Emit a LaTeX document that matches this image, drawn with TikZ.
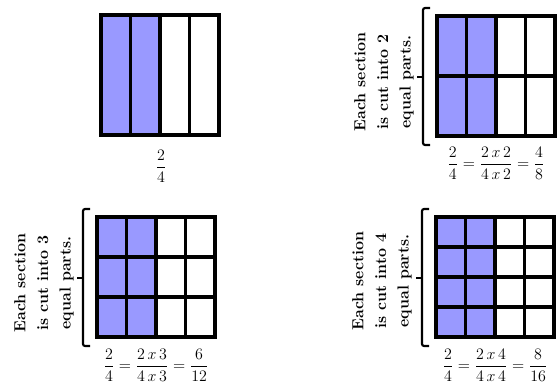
\documentclass[tikz,border=0pt]{standalone}
\usepackage{amsmath}
\usepackage{xcolor}
\usepackage{tikz}
\usetikzlibrary{positioning,calc}

\definecolor{partfill}{RGB}{153,153,255}
\tikzset{
	gridline/.style={line width=2.4pt},
	bracket/.style={line width=1.6pt, rounded corners=1.5pt},
	sidenote/.style={rotate=90, align=center, inner sep=0pt,
		font=\fontsize{12}{17}\selectfont\bfseries},
	eqlabel/.style={inner sep=0pt, font=\large},
}

\begin{document}
\begin{tikzpicture}[x=0.75pt,y=-0.75pt]
	\useasboundingbox (0,0) rectangle (559,386);
	
	% the four grids: left, top, rows
	\foreach \gx/\gy/\rows/\gname in {101/15/1/one, 437/16/2/two, 97/217/3/three, 436/217/4/four} {
		\begin{scope}[shift={(\gx,\gy)}]
			\coordinate (\gname-nw) at (0,0);
			\coordinate (\gname-se) at (118,120);
			\fill[partfill] (\gname-nw) rectangle (59,120);
			\foreach \c in {1,2,3}
				\draw[gridline] (\c*29.5,0) -- (\c*29.5,120);
			\pgfmathtruncatemacro{\last}{\rows-1}
			\ifnum\rows>1
				\foreach \r in {1,...,\last}
					\draw[gridline] (0,\r*120/\rows) -- (118,\r*120/\rows);
			\fi
			\draw[gridline] (\gname-nw) rectangle (\gname-se);
		\end{scope}
	}
	
	% brackets beside the cut grids
	\foreach \gname in {two,three,four} {
		\draw[bracket] ($(\gname-nw)+(-7,-8)$) -- ($(\gname-nw)+(-14,-8)$)
			-- ($(\gname-nw)+(-14,129)$) -- ($(\gname-nw)+(-7,129)$);
		\draw[line width=1.6pt] ($(\gname-nw)+(-14,61)$) -- ($(\gname-nw)+(-20,61)$);
	}
	
	\node[sidenote] (note2) at ($(two-nw)+(-53,66)$) {Each section\\is cut into 2\\equal parts.};
	\node[sidenote] (note3) at ($(three-nw)+(-53,66)$) {Each section\\is cut into 3\\equal parts.};
	\node[sidenote] (note4) at ($(four-nw)+(-54,64)$) {Each section\\is cut into 4\\equal parts.};
	
	\node[eqlabel] (eq1) at ($(one-nw)+(60,151)$) {$\dfrac{2}{4}$};
	\node[eqlabel] (eq2) at ($(two-nw)+(59,147)$) {$\dfrac{2}{4}=\dfrac{2\,x\,2}{4\,x\,2}=\dfrac{4}{8}$};
	\node[eqlabel] (eq3) at ($(three-nw)+(59,148)$) {$\dfrac{2}{4}=\dfrac{2\,x\,3}{4\,x\,3}=\dfrac{6}{12}$};
	\node[eqlabel] (eq4) at ($(four-nw)+(59,148)$) {$\dfrac{2}{4}=\dfrac{2\,x\,4}{4\,x\,4}=\dfrac{8}{16}$};
\end{tikzpicture}
\end{document}
